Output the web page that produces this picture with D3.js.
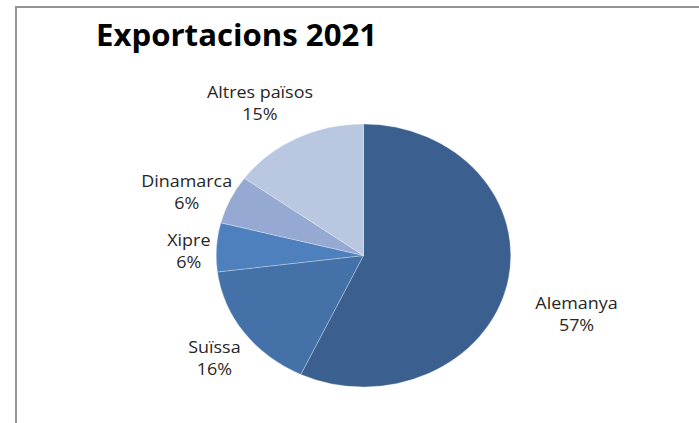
<!DOCTYPE html>
<html>
<head>
<meta charset="utf-8">
<script src="https://cdn.jsdelivr.net/npm/d3@7"></script>
<style>
  html, body { margin: 0; padding: 0; background: #fff; }
  svg { display: block; }
</style>
</head>
<body>
<div id="chart"></div>
<script>
// data
var countries = ['Alemanya', 'Suïssa', 'Xipre', 'Dinamarca', 'Altres països'];
var shares = [57, 16, 6, 6, 15];
var sliceColors = ['#3b5f8e', '#4472a8', '#4e80bd', '#95a9d2', '#bac7e1'];

var width = 699, height = 423;
// the whole chart is stretched sideways a bit
var sx = 1.12;
var cx = 363.5 / sx, cy = 255.5, radius = 131.5;

// label placement: [angle nudge in degrees, distance from centre]
var labelAt = [[4.5, 199], [-1.6, 168], [-1.9, 156], [-3.4, 170], [-4.3, 178]];

var svg = d3.select('#chart').append('svg')
    .attr('width', width)
    .attr('height', height);

// frame (only top and left edges show)
svg.append('path')
    .attr('d', 'M16,423 L16,7 L699,7')
    .attr('fill', 'none')
    .attr('stroke', '#939393')
    .attr('stroke-width', 2);

var g = svg.append('g').attr('transform', 'scale(' + sx + ',1)');

g.append('text')
    .attr('x', 96 / sx)
    .attr('y', 46)
    .attr('font-family', '"Open Sans", sans-serif')
    .attr('font-weight', 'bold')
    .attr('font-size', 30)
    .attr('textLength', 251)
    .attr('lengthAdjust', 'spacingAndGlyphs')
    .attr('fill', '#000')
    .text('Exportacions 2021');

var pie = d3.pie().sort(null).value(function (d) { return d; });
var arcs = pie(shares);
var arc = d3.arc().innerRadius(0).outerRadius(radius);

var pieG = g.append('g').attr('transform', 'translate(' + cx + ',' + cy + ')');

pieG.selectAll('path')
    .data(arcs)
    .enter()
    .append('path')
    .attr('d', arc)
    .attr('fill', function (d, i) { return sliceColors[i]; })
    .attr('stroke', 'rgba(255,255,255,0.45)')
    .attr('stroke-width', 0.6);

// labels
var labels = pieG.selectAll('g.lbl')
    .data(arcs)
    .enter()
    .append('g')
    .attr('class', 'lbl')
    .attr('transform', function (d, i) {
        var mid = (d.startAngle + d.endAngle) / 2 + labelAt[i][0] * Math.PI / 180;
        var r = labelAt[i][1];
        return 'translate(' + (Math.sin(mid) * r) + ',' + (-Math.cos(mid) * r) + ')';
    });

labels.append('text')
    .attr('y', -5)
    .attr('text-anchor', 'middle')
    .attr('font-family', '"Open Sans", sans-serif')
    .attr('font-size', 16)
    .attr('fill', '#262626')
    .text(function (d, i) { return countries[i]; });

labels.append('text')
    .attr('y', 17)
    .attr('text-anchor', 'middle')
    .attr('font-family', '"Open Sans", sans-serif')
    .attr('font-size', 16)
    .attr('fill', '#262626')
    .text(function (d) { return d.value + '%'; });
</script>
</body>
</html>
